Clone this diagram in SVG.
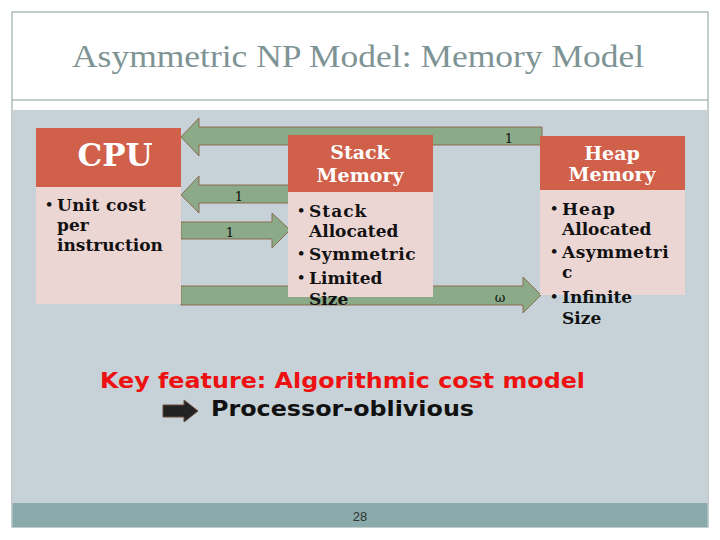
<svg xmlns="http://www.w3.org/2000/svg" width="720" height="540" viewBox="0 0 720 540">
<defs>
<style>
.frame{fill:#ffffff;stroke:#8a9a9a;stroke-width:1}
.hdr{fill:#d0604a}
.body{fill:#ecd6d4}
.arrow{fill:#8aaa88;stroke:#8c6c50;stroke-width:1}
.title{font-family:"Liberation Serif",serif;font-size:32px;fill:#7e9494}
.htxt{font-family:"DejaVu Serif",serif;font-weight:bold;fill:#ffffff;text-anchor:middle}
.btxt{font-family:"DejaVu Serif",serif;font-weight:bold;font-size:17px;fill:#111111}
.bul{font-family:"DejaVu Serif",serif;font-weight:bold;font-size:13px;fill:#111111}
.lbl{font-family:"DejaVu Serif",serif;font-size:13px;fill:#111111;text-anchor:middle}
</style>
</defs>
<rect x="0" y="0" width="720" height="540" fill="#ffffff"/>
<rect class="frame" x="12" y="12" width="696" height="515"/>
<line x1="12" y1="100" x2="708" y2="100" stroke="#8a9a9a" stroke-width="1"/>
<rect x="12.5" y="110" width="695" height="393" fill="#c6d1d8"/>
<rect x="12.5" y="503" width="695" height="24" fill="#89abab"/>
<text class="title" x="358" y="67" text-anchor="middle" textLength="572" lengthAdjust="spacingAndGlyphs">Asymmetric NP Model: Memory Model</text>

<g id="connectors">
<path class="arrow" d="M181,137 L199,118 L199,127 L542,127 L542,145 L199,145 L199,156 Z"/>
<path class="arrow" d="M181,195 L199,176 L199,185 L290,185 L290,203 L199,203 L199,213 Z"/>
<path class="arrow" d="M181,222 L272,222 L272,213 L290,230 L272,248 L272,239 L181,239 Z"/>
<path class="arrow" d="M181,286 L523,286 L523,277 L541,295 L523,313 L523,305 L181,305 Z"/>
<text class="lbl" x="509" y="143">1</text>
<text class="lbl" x="239" y="201">1</text>
<text class="lbl" x="230" y="237">1</text>
<text class="lbl" x="500" y="302">ω</text>
</g>

<g id="cpu">
<rect class="hdr" x="36" y="128" width="145" height="59"/>
<rect class="body" x="36" y="187" width="145" height="117"/>
<text class="htxt" x="115" y="166" font-size="31">CPU</text>
<text class="bul" x="45" y="209">•</text>
<text class="btxt" x="57" y="211" letter-spacing="0.3">Unit cost</text>
<text class="btxt" x="57" y="231">per</text>
<text class="btxt" x="57" y="251">instruction</text>
</g>

<g id="stack">
<rect class="hdr" x="288" y="135" width="145" height="57"/>
<rect class="body" x="288" y="192" width="145" height="105"/>
<text class="htxt" x="360" y="159" font-size="19">Stack</text>
<text class="htxt" x="360" y="182" font-size="19">Memory</text>
<text class="bul" x="297" y="215">•</text>
<text class="btxt" x="309" y="217" letter-spacing="1">Stack</text>
<text class="btxt" x="309" y="237">Allocated</text>
<text class="bul" x="297" y="258">•</text>
<text class="btxt" x="309" y="260" letter-spacing="0.5">Symmetric</text>
<text class="bul" x="297" y="282">•</text>
<text class="btxt" x="309" y="284">Limited</text>
<text class="btxt" x="309" y="305">Size</text>
</g>

<g id="heap">
<rect class="hdr" x="540" y="136" width="145" height="54"/>
<rect class="body" x="540" y="190" width="145" height="105"/>
<text class="htxt" x="612" y="160" font-size="19">Heap</text>
<text class="htxt" x="612" y="181" font-size="19">Memory</text>
<text class="bul" x="550" y="213">•</text>
<text class="btxt" x="562" y="215" letter-spacing="1">Heap</text>
<text class="btxt" x="562" y="235">Allocated</text>
<text class="bul" x="550" y="256">•</text>
<text class="btxt" x="562" y="258" letter-spacing="0.5">Asymmetri</text>
<text class="btxt" x="562" y="278">c</text>
<text class="bul" x="550" y="301">•</text>
<text class="btxt" x="562" y="303">Infinite</text>
<text class="btxt" x="562" y="324">Size</text>
</g>

<g id="keyfeature">
<text x="100" y="388" font-family="'DejaVu Sans',sans-serif" font-weight="bold" font-size="22" fill="#ee1111" textLength="485" lengthAdjust="spacingAndGlyphs">Key feature: Algorithmic cost model</text>
<path d="M163,405 L184,405 L184,400 L198,411 L184,422 L184,417 L163,417 Z" fill="#222222" stroke="#6b4a3a" stroke-width="1"/>
<text x="211" y="416" font-family="'DejaVu Sans',sans-serif" font-weight="bold" font-size="22" fill="#111111" textLength="263" lengthAdjust="spacingAndGlyphs">Processor-oblivious</text>
</g>

<text x="360" y="521" font-family="'Liberation Sans',sans-serif" font-size="13" fill="#333333" text-anchor="middle">28</text>
</svg>
